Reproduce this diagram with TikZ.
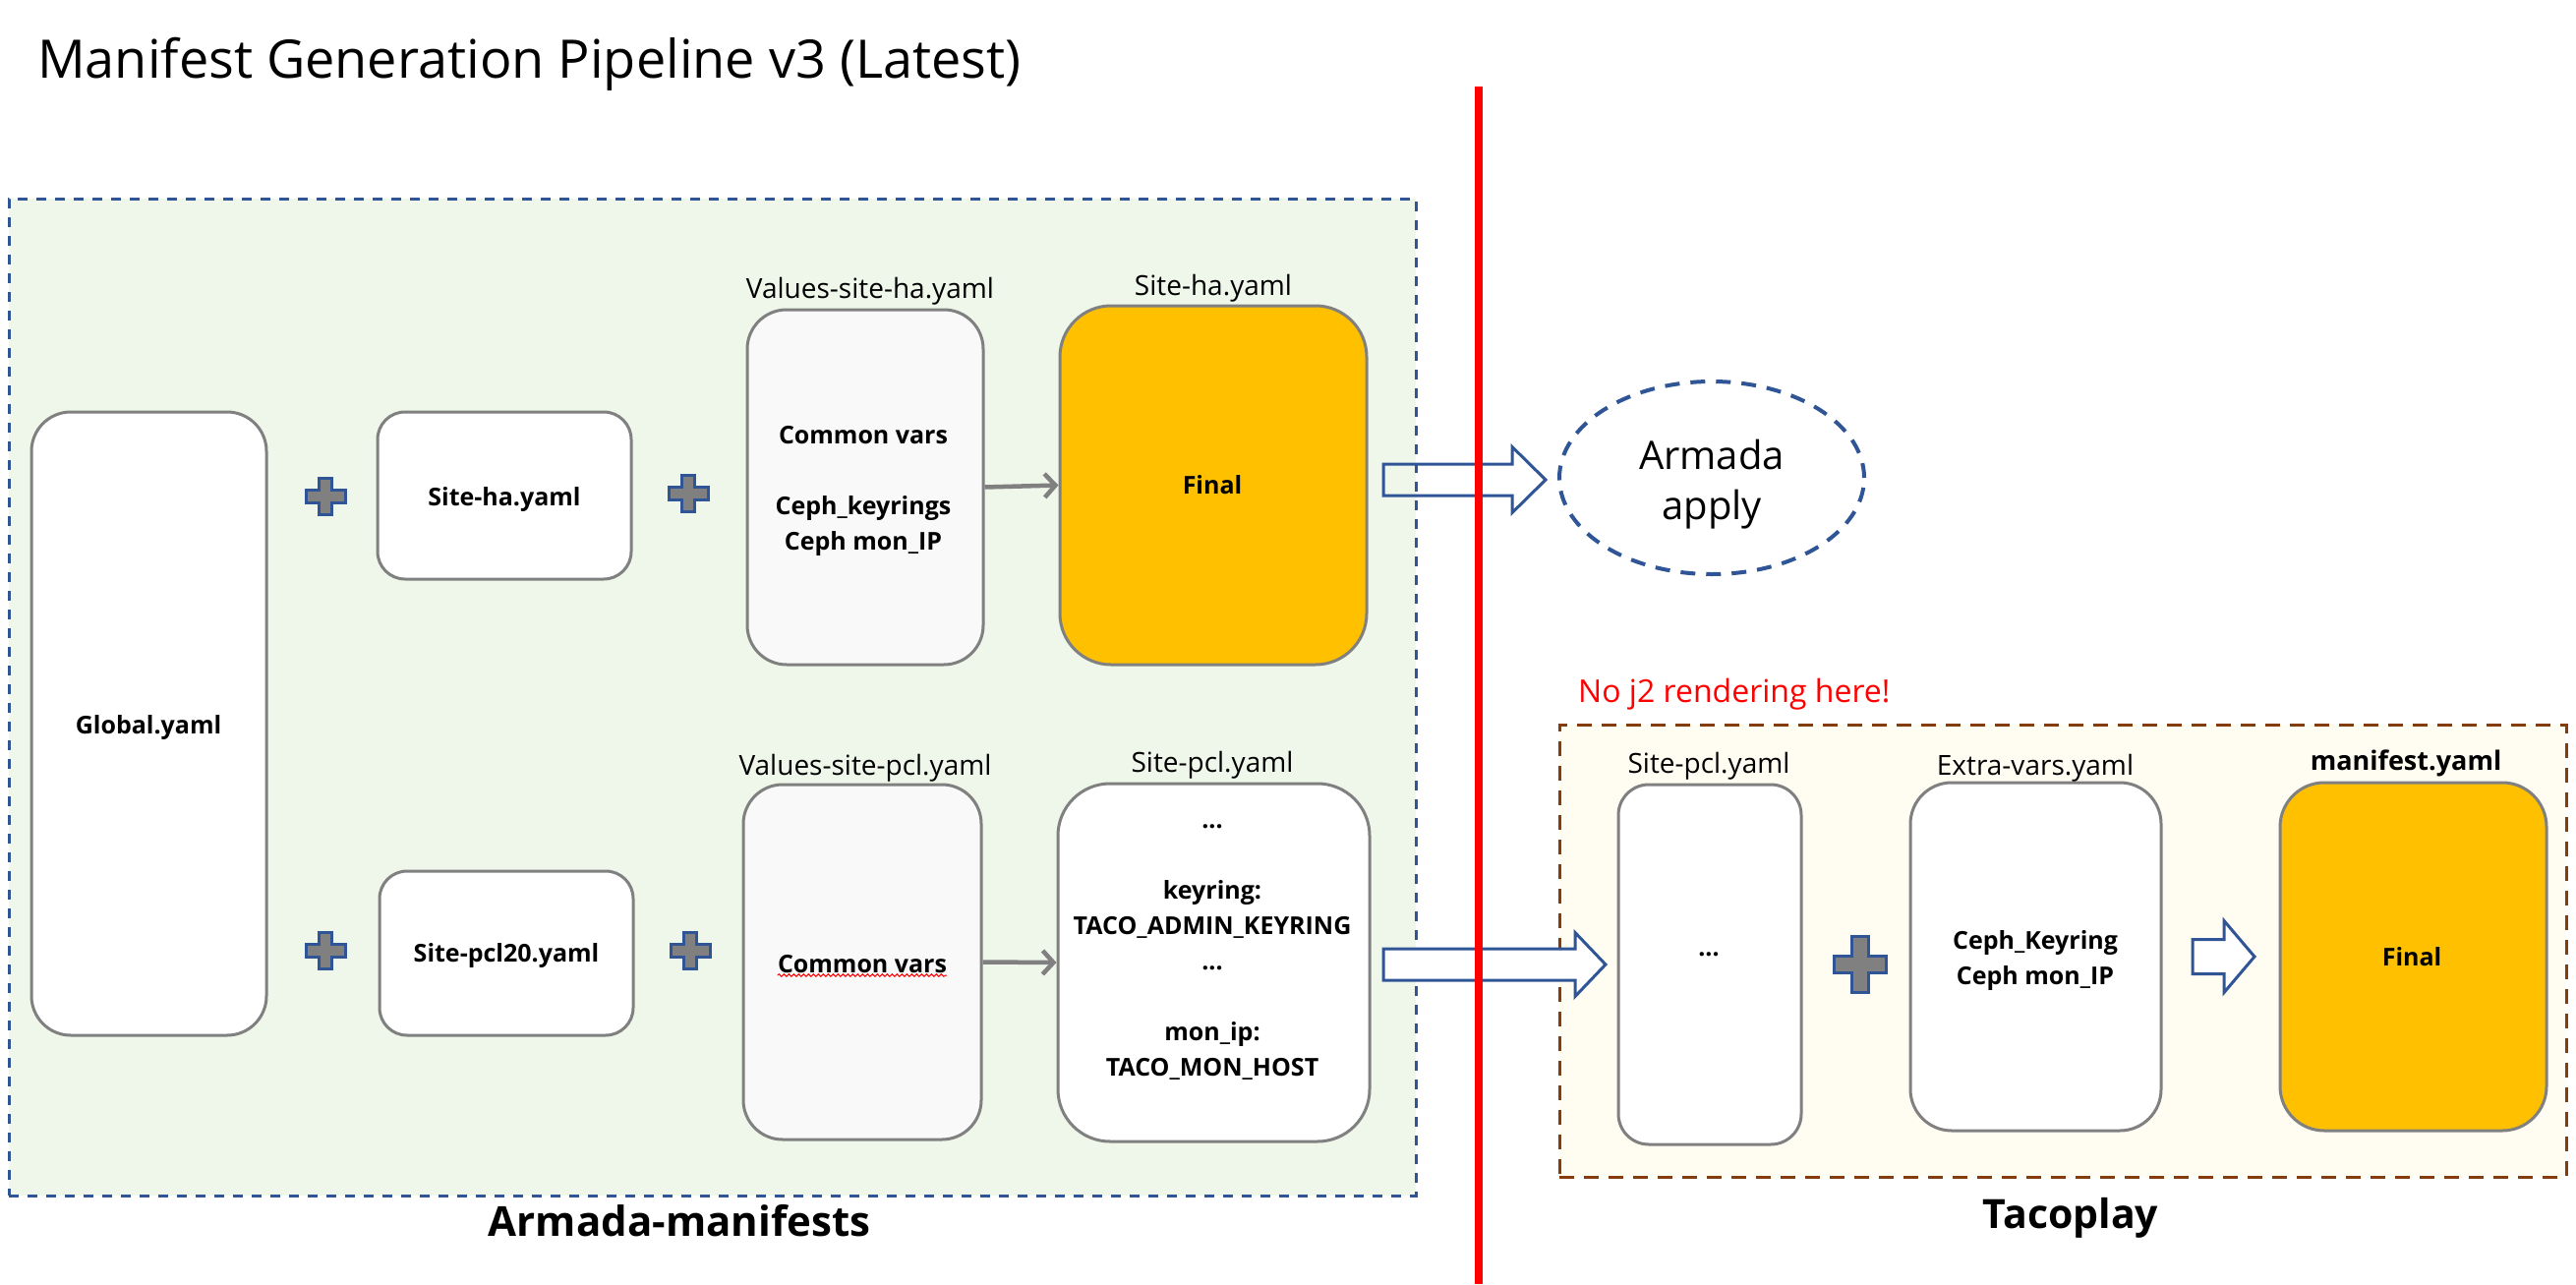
\documentclass[tikz,border=0pt]{standalone}
\usepackage{fontspec}
\setmainfont{Open Sans}
\usetikzlibrary{arrows.meta,decorations.pathmorphing,shapes.geometric,calc}
\definecolor{bgreen}{HTML}{EFF6EA}
\definecolor{dblue}{HTML}{2F5597}
\definecolor{boxgray}{HTML}{808080}
\definecolor{lightbox}{HTML}{F9F9F9}
\definecolor{gold}{HTML}{FFC000}
\definecolor{cream}{HTML}{FFFDF2}
\definecolor{brownd}{HTML}{843C0C}
\definecolor{pure red}{HTML}{FF0000}
\newcommand\plusat[5]{\draw[plusst] (#1-#5,#2-#4) -- (#1+#5,#2-#4) -- (#1+#5,#2-#5) -- (#1+#3,#2-#5) -- (#1+#3,#2+#5) -- (#1+#5,#2+#5) -- (#1+#5,#2+#4) -- (#1-#5,#2+#4) -- (#1-#5,#2+#5) -- (#1-#3,#2+#5) -- (#1-#3,#2-#5) -- (#1-#5,#2-#5) -- cycle;}
\newcommand\barrow[7]{\draw[#1] (#2,#4-#5) -- (#3-#7,#4-#5) -- (#3-#7,#4-#6) -- (#3,#4) -- (#3-#7,#4+#6) -- (#3-#7,#4+#5) -- (#2,#4+#5) -- cycle;}
\begin{document}
\begin{tikzpicture}[x=1pt,y=-1pt,
  rbox/.style={draw=boxgray, line width=3pt, fill=white, inner sep=0pt},
  lbl/.style={font=\fontsize{28}{34}\selectfont, anchor=base, inner sep=0pt},
  btxt/.style={font=\fontsize{25}{36}\selectfont\bfseries, align=center, inner sep=0pt},
  bbase/.style={btxt, anchor=base},
  plusst/.style={fill=boxgray, draw=dblue, line width=3pt, line join=miter},
  blk/.style={draw=dblue, line width=3pt, line join=miter},
  garrow/.style={draw=boxgray, line width=4.5pt, -{Straight Barb[length=11pt,width=24pt]}}
]
\useasboundingbox (0,0) rectangle (2620,1306);
\fill[white] (0,0) rectangle (2620,1306);

% title
\node[anchor=base west, inner sep=0pt, font=\fontsize{54}{60}\selectfont] (title) at (38,80) {Manifest Generation Pipeline v3 (Latest)};

% containers
\node[draw=dblue, fill=bgreen, line width=3pt, dash pattern=on 10pt off 9pt, minimum width=1431pt, minimum height=1014pt, inner sep=0pt] (armada) at (724.5,709) {};
\node[draw=brownd, fill=cream, line width=3pt, dash pattern=on 15pt off 10pt, minimum width=1024pt, minimum height=460pt, inner sep=0pt] (taco) at (2098,967) {};

% boxes, Armada side
\node[rbox, minimum width=239pt, minimum height=634pt, rounded corners=40pt] (global) at (151.5,736) {};
\node[rbox, minimum width=258pt, minimum height=170pt, rounded corners=28pt] (siteha) at (513,504) {};
\node[rbox, minimum width=258pt, minimum height=167pt, rounded corners=28pt] (sitepcltw) at (515,969.5) {};
\node[rbox, fill=lightbox, minimum width=240pt, minimum height=361pt, rounded corners=40pt] (valha) at (880,495.5) {};
\node[rbox, fill=gold, minimum width=312pt, minimum height=365pt, rounded corners=52pt] (finalha) at (1234,493.5) {};
\node[rbox, fill=lightbox, minimum width=242pt, minimum height=361pt, rounded corners=40pt] (valpcl) at (877,978.5) {};
\node[rbox, minimum width=317pt, minimum height=364pt, rounded corners=53pt] (sitepcl) at (1234.5,979) {};

% boxes, Tacoplay side
\node[rbox, minimum width=186pt, minimum height=366pt, rounded corners=31pt] (tsitepcl) at (1739,981) {};
\node[rbox, minimum width=255pt, minimum height=354pt, rounded corners=42pt] (extra) at (2070.5,973) {};
\node[rbox, fill=gold, minimum width=271pt, minimum height=354pt, rounded corners=45pt] (mfinal) at (2454.5,973) {};

% ellipse
\node[ellipse, draw=dblue, line width=4pt, dash pattern=on 15pt off 11pt, minimum width=310pt, minimum height=196pt, inner sep=0pt] (apply) at (1741,486) {};
\node[font=\fontsize{40}{51}\selectfont, align=center, inner sep=0pt] (applytxt) at (1741,492.3) {\strut Armada\\\strut apply};

% labels above boxes
\node[lbl] (lvh) at (885,303) {Values-site-ha.yaml};
\node[lbl] (lsh) at (1234,300) {Site-ha.yaml};
\node[lbl] (lvp) at (880,788) {Values-site-pcl.yaml};
\node[lbl] (lsp) at (1233,785) {Site-pcl.yaml};
\node[lbl] (ltsp) at (1738,786) {Site-pcl.yaml};
\node[lbl] (lev) at (2070,788) {Extra-vars.yaml};
\node[lbl, font=\fontsize{27}{34}\selectfont\bfseries] (lmf) at (2447,783) {manifest.yaml};

% box texts
\node[bbase] (tglobal) at (151,746) {Global.yaml};
\node[bbase] (tsiteha) at (513,514) {Site-ha.yaml};
\node[bbase] (tsitepcltw) at (515,978) {Site-pcl20.yaml};
\node[bbase] (tfinalha) at (1233,502) {Final};
\node[bbase] (tmfinal) at (2453,982) {Final};
\node[bbase] (tvalpcl) at (877,989) {Common vars};
\node[bbase] (ttsitepcl) at (1738,972) {...};
\node[btxt] (tvalha) at (878,497.8) {\strut Common vars\\\strut\\\strut Ceph\_keyrings\\\strut Ceph mon\_IP};
\node[btxt] (tsitepcl) at (1233,960.8) {\strut ...\\\strut\\\strut keyring:\\\strut TACO\_ADMIN\_KEYRING\\\strut ...\\\strut\\\strut mon\_ip:\\\strut TACO\_MON\_HOST};
\node[btxt] (textra) at (2070,975.8) {\strut Ceph\_Keyring\\\strut Ceph mon\_IP};

% spell-check squiggle
\coordinate (sqa) at ($(tvalpcl.base west)+(0,3)$);
\coordinate (sqb) at ($(tvalpcl.base east)+(0,3)$);
\draw[pure red, line width=1pt, decorate, decoration={snake, amplitude=1.2pt, segment length=5pt}] (sqa) -- (sqb);

% plus signs
\plusat{331}{505}{20}{18.5}{6.5}
\plusat{700}{502}{20}{18.5}{6.5}
\plusat{331}{967}{20}{18.5}{6.5}
\plusat{702}{967}{20}{18.5}{6.5}
\plusat{1892}{981}{26.5}{28.5}{8.5}

% grey arrows
\draw[garrow] (valha.east) -- (finalha.west);
\draw[garrow] (valpcl.east) -- (sitepcl.west);

% block arrows
\barrow{blk}{1407}{1572}{488}{16}{33.5}{34}
\barrow{blk, fill=white}{1407}{1633}{981}{16}{32.5}{31}
\barrow{blk, fill=white}{2230}{2293}{973}{17.5}{36.5}{31}

% red divider
\coordinate (redtop) at (1504,88);
\coordinate (redbot) at (1504,1306);
\draw[pure red, line width=8pt] (redtop) -- (redbot);

% notes and section titles
\node[anchor=base west, inner sep=0pt, text=pure red, font=\fontsize{32}{38}\selectfont] (note) at (1605,714) {No j2 rendering here!};
\node[anchor=base, inner sep=0pt, font=\fontsize{42}{50}\selectfont\bfseries] (armtitle) at (691,1257) {Armada-manifests};
\node[anchor=base, inner sep=0pt, font=\fontsize{41}{50}\selectfont\bfseries] (tacotitle) at (2106,1249) {Tacoplay};
\end{tikzpicture}
\end{document}
